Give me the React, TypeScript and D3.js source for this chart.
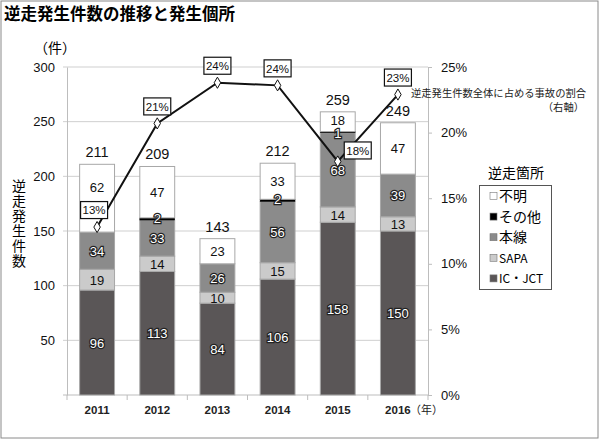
import React, { useEffect, useRef } from 'react';
import * as d3 from 'd3';

// data
const years = ['2011', '2012', '2013', '2014', '2015', '2016'];
const icJct = [96, 113, 84, 106, 158, 150];
const sapa = [19, 14, 10, 15, 14, 13];
const honsen = [34, 33, 26, 56, 68, 39];
const sonota = [0, 2, 0, 2, 1, 0];
const fumei = [62, 47, 23, 33, 18, 47];
const totals = [211, 209, 143, 212, 259, 249];
const accidentRatio = [12.8, 20.7, 23.8, 23.6, 17.8, 22.9];

const seriesNames = ['IC・JCT', 'SAPA', '本線', 'その他', '不明'];
const seriesValues = [icJct, sapa, honsen, sonota, fumei];
const leftTicks = [50, 100, 150, 200, 250, 300];
const rightTicks = [0, 5, 10, 15, 20, 25];

const colors: Record<string, string> = {
  'IC・JCT': '#5a5657',
  SAPA: '#cbcbcb',
  '本線': '#8b8b8b',
  'その他': '#000000',
  '不明': '#ffffff',
};

const JP = '"Noto Sans CJK JP", "Noto Sans", sans-serif';
const NUM = '"Liberation Sans", Arial, sans-serif';

const App: React.FC = () => {
  const ref = useRef<SVGSVGElement>(null);

  useEffect(() => {
    document.body.style.margin = '0';
    const width = 600;
    const height = 440;
    const svg = d3.select(ref.current).attr('width', width).attr('height', height);
    svg.selectAll('*').remove();

    const plot = { left: 67, right: 428, top: 67, bottom: 395 };

    const x = d3.scaleBand().domain(years).range([plot.left, plot.right]).paddingInner(0.42).paddingOuter(0.21);
    const y = d3.scaleLinear().domain([0, 300]).range([plot.bottom, plot.top]);
    const yR = d3.scaleLinear().domain([0, 25]).range([plot.bottom, plot.top]);

    // outer frame
    svg.append('rect')
      .attr('x', 1).attr('y', 1).attr('width', 597).attr('height', 437)
      .attr('fill', '#fff').attr('stroke', '#8a8a8a');

    // title
    svg.append('text')
      .attr('x', 4).attr('y', 20)
      .attr('font-family', JP).attr('font-size', 16.5).attr('font-weight', 'bold')
      .text('逆走発生件数の推移と発生個所');

    // gridlines
    svg.append('g').selectAll('line').data(leftTicks).join('line')
      .attr('x1', plot.left - 4).attr('x2', plot.right)
      .attr('y1', d => y(d)).attr('y2', d => y(d))
      .attr('stroke', '#cfcfcf');

    // left axis
    const gl = svg.append('g').attr('transform', `translate(${plot.left},0)`)
      .call(d3.axisLeft(y).tickValues(leftTicks).tickSize(0).tickPadding(12));
    gl.select('.domain').attr('stroke', '#bdbdbd');
    gl.selectAll('text').attr('font-family', NUM).attr('font-size', 13).attr('fill', '#111');

    // right axis
    const gr = svg.append('g').attr('transform', `translate(${plot.right},0)`)
      .call(d3.axisRight(yR).tickValues(rightTicks).tickSize(4).tickPadding(9).tickFormat(d => `${d}%`));
    gr.select('.domain').attr('stroke', '#bdbdbd');
    gr.selectAll('line').attr('stroke', '#bdbdbd');
    gr.selectAll('text').attr('font-family', NUM).attr('font-size', 13).attr('fill', '#111');

    // bottom axis
    const step = x.step();
    svg.append('line')
      .attr('x1', plot.left - 4).attr('x2', plot.right)
      .attr('y1', plot.bottom).attr('y2', plot.bottom).attr('stroke', '#bdbdbd');
    svg.append('g').selectAll('line').data(d3.range(years.length + 1)).join('line')
      .attr('x1', i => plot.left + i * step).attr('x2', i => plot.left + i * step)
      .attr('y1', plot.bottom).attr('y2', plot.bottom + 5).attr('stroke', '#bdbdbd');
    svg.append('g').selectAll('text').data(years).join('text')
      .attr('x', d => x(d)! + x.bandwidth() / 2).attr('y', 414)
      .attr('text-anchor', 'middle')
      .attr('font-family', '"Liberation Sans Narrow", "Liberation Sans", Arial, sans-serif')
      .attr('font-size', 11.5).attr('font-weight', 'bold').attr('fill', '#222')
      .text(d => d);
    svg.append('text')
      .attr('x', x('2016')! + x.bandwidth() / 2 + 12).attr('y', 414)
      .attr('font-family', JP).attr('font-size', 11).attr('fill', '#222')
      .text('（年）');

    // axis titles
    svg.append('text')
      .attr('x', 55).attr('y', 53).attr('text-anchor', 'middle')
      .attr('font-family', JP).attr('font-size', 14)
      .text('（件）');
    svg.append('text')
      .attr('x', 19).attr('y', 224)
      .attr('text-anchor', 'middle')
      .style('writing-mode', 'vertical-rl')
      .attr('letter-spacing', 1)
      .attr('font-family', JP).attr('font-size', 14)
      .text('逆走発生件数');

    // stacked bars
    const rows = years.map((yr, i) => {
      const row: Record<string, number | string> = { year: yr };
      seriesNames.forEach((n, k) => { row[n] = seriesValues[k][i]; });
      return row;
    });
    const stack = d3.stack<Record<string, number | string>>().keys(seriesNames)(rows as any);

    const bars = svg.append('g');
    stack.forEach(layer => {
      const key = layer.key;
      bars.append('g').selectAll('rect').data(layer).join('rect')
        .attr('x', (_, i) => x(years[i])!)
        .attr('width', x.bandwidth())
        .attr('y', d => y(d[1]))
        .attr('height', d => Math.max(0, y(d[0]) - y(d[1])))
        .attr('fill', colors[key])
        .attr('stroke', key === 'その他' ? '#000' : '#a8a8a8')
        .attr('stroke-width', key === 'その他' ? 0.5 : 1);
    });

    // segment labels (a few sit off-centre in the original to stay clear of neighbours)
    const labelNudge = (key: string, yr: string) => {
      if (key === '不明' && yr === '2011') return -11;
      if (key === '不明' && yr === '2015') return -2;
      if (key === 'その他' && yr === '2015') return 1;
      return 0;
    };
    stack.forEach(layer => {
      const key = layer.key;
      const outlined = key === 'IC・JCT' || key === '本線' || key === 'その他';
      bars.append('g').selectAll('text').data(layer.filter(d => d[1] - d[0] > 0)).join('text')
        .attr('x', d => x(String(d.data.year))! + x.bandwidth() / 2)
        .attr('y', d => (key === 'その他' ? y(d[1]) + 5 : (y(d[0]) + y(d[1])) / 2 + 5)
          + labelNudge(key, String(d.data.year)))
        .attr('text-anchor', 'middle')
        .attr('font-family', NUM).attr('font-size', 13)
        .attr('fill', outlined ? '#fff' : '#111')
        .attr('stroke', outlined ? '#222' : 'none')
        .attr('stroke-width', outlined ? 2.4 : 0)
        .attr('paint-order', 'stroke')
        .text(d => d[1] - d[0]);
    });

    // totals
    svg.append('g').selectAll('text').data(totals).join('text')
      .attr('x', (_, i) => x(years[i])! + x.bandwidth() / 2)
      .attr('y', d => y(d) - 7)
      .attr('text-anchor', 'middle')
      .attr('font-family', NUM).attr('font-size', 14.5).attr('fill', '#111')
      .text(d => d);

    // ratio line (right axis)
    const cx = (i: number) => x(years[i])! + x.bandwidth() / 2;
    const line = d3.line<number>().x((_, i) => cx(i)).y(d => yR(d));
    svg.append('path').datum(accidentRatio)
      .attr('fill', 'none').attr('stroke', '#111').attr('stroke-width', 2).attr('d', line);
    svg.append('g').selectAll('path').data(accidentRatio).join('path')
      .attr('d', d3.symbol().type(d3.symbolDiamond).size(36)())
      .attr('transform', (d, i) => `translate(${cx(i)},${yR(d)})`)
      .attr('fill', '#fff').attr('stroke', '#111').attr('stroke-width', 1);

    // ratio labels
    const labelShift = (i: number) => {
      if (years[i] === '2015') return [20, -11];
      if (years[i] === '2011') return [-3, -17];
      return [0, -17];
    };
    const lg = svg.append('g').selectAll('g').data(accidentRatio).join('g')
      .attr('transform', (d, i) => `translate(${cx(i) + labelShift(i)[0]},${yR(d) + labelShift(i)[1]})`);
    lg.append('rect')
      .attr('x', -13.5).attr('y', -8.5).attr('width', 27).attr('height', 17)
      .attr('fill', '#fff').attr('stroke', '#111').attr('stroke-width', 1.2);
    lg.append('text')
      .attr('y', 4.3).attr('text-anchor', 'middle')
      .attr('font-family', NUM).attr('font-size', 11.5).attr('fill', '#111')
      .text(d => `${Math.round(d)}%`);

    // line annotation
    svg.append('text')
      .attr('x', 411).attr('y', 97)
      .attr('font-family', JP).attr('font-size', 10.3).attr('fill', '#222')
      .text('逆走発生件数全体に占める事故の割合');
    svg.append('text')
      .attr('x', 584).attr('y', 111).attr('text-anchor', 'end')
      .attr('font-family', JP).attr('font-size', 10.3).attr('fill', '#222')
      .text('（右軸）');

    // legend
    svg.append('text')
      .attr('x', 516).attr('y', 178).attr('text-anchor', 'middle')
      .attr('font-family', JP).attr('font-size', 14)
      .text('逆走箇所');
    svg.append('rect')
      .attr('x', 479.5).attr('y', 185.5).attr('width', 72).attr('height', 104)
      .attr('fill', '#fff').attr('stroke', '#555');
    const legendOrder = [...seriesNames].reverse();
    const li = svg.append('g').selectAll('g').data(legendOrder).join('g')
      .attr('transform', (_, i) => `translate(490,${196 + i * 20.6})`);
    li.append('rect')
      .attr('x', 0).attr('y', -3.5).attr('width', 7).attr('height', 7)
      .attr('fill', d => colors[d]).attr('stroke', '#777').attr('stroke-width', 0.6);
    li.append('text')
      .attr('x', 9).attr('y', 5)
      .attr('font-family', JP).attr('font-size', d => (d === 'SAPA' || d === 'IC・JCT' ? 12 : 14))
      .text(d => d);
  }, []);

  return <svg ref={ref}></svg>;
};

export default App;
